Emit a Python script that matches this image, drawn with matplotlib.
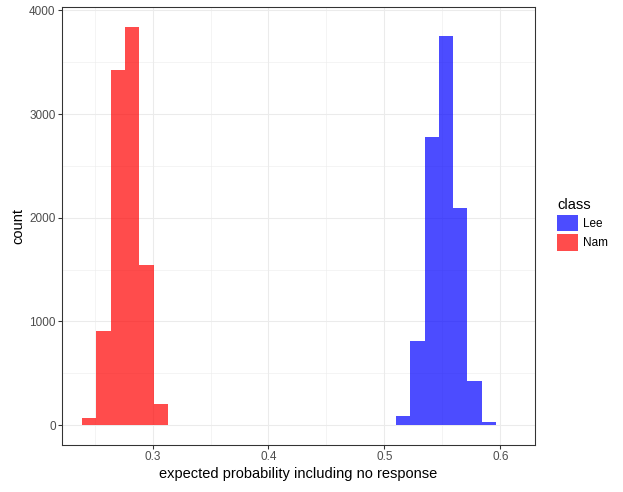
import matplotlib.pyplot as plt
from matplotlib.patches import Patch

# histogram bins (centres) and counts
bin_width = 0.0123
nam_centers = [0.2455, 0.2578, 0.2701, 0.2824, 0.2947, 0.3070]
nam_counts = [70, 906, 3423, 3838, 1543, 203]
lee_centers = [0.5162, 0.5285, 0.5408, 0.5531, 0.5654, 0.5777, 0.5900]
lee_counts = [87, 810, 2777, 3751, 2093, 424, 29]

classes = ["Lee", "Nam"]
colors = {"Lee": "blue", "Nam": "red"}

plt.rcParams['font.family'] = ['Liberation Sans', 'DejaVu Sans']

fig = plt.figure(figsize=(623 / 96, 492 / 96), dpi=96)
ax = fig.add_axes([0.0995, 0.0955, 0.7595, 0.8895])

ax.bar(lee_centers, lee_counts, width=bin_width, color=colors["Lee"], alpha=0.7, linewidth=0, zorder=3)
ax.bar(nam_centers, nam_counts, width=bin_width, color=colors["Nam"], alpha=0.7, linewidth=0, zorder=3)

ax.set_xlim(0.2219, 0.6300)
ax.set_ylim(-192, 4030)
ax.set_xticks([0.3, 0.4, 0.5, 0.6])
ax.set_xticklabels(["0.3", "0.4", "0.5", "0.6"])
ax.set_xticks([0.25, 0.35, 0.45, 0.55], minor=True)
ax.set_yticks([0, 1000, 2000, 3000, 4000])
ax.set_yticks([500, 1500, 2500, 3500], minor=True)

ax.grid(which="major", color="#EBEBEB", linewidth=0.8, zorder=0)
ax.grid(which="minor", color="#EBEBEB", linewidth=0.4, zorder=0)
ax.set_axisbelow(True)
ax.tick_params(which="major", length=2.75, width=0.8, color="#333333", labelcolor="#4D4D4D", labelsize=8.8, pad=2)
ax.tick_params(which="minor", length=0)
for s in ax.spines.values():
    s.set_color("#333333")
    s.set_linewidth(0.8)

ax.set_xlabel("expected probability including no response", fontsize=11, labelpad=3)
ax.set_ylabel("count", fontsize=11, labelpad=3)

handles = [Patch(facecolor=colors[c], alpha=0.7, linewidth=0) for c in classes]
leg = fig.legend(handles, classes, title="class", loc="upper left", bbox_to_anchor=(0.887, 0.607),
                 frameon=False, fontsize=8.8, title_fontsize=11, handlelength=1.76, handleheight=1.76,
                 labelspacing=0.25, handletextpad=0.4, borderaxespad=0)
leg._legend_box.align = "left"

fig.savefig("out.png", dpi=96)
